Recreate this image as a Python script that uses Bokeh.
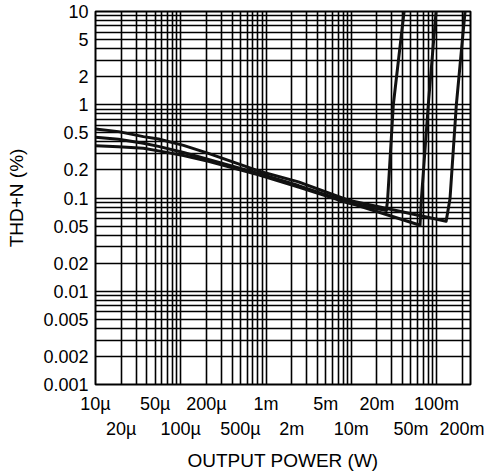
from bokeh.plotting import figure
from bokeh.models import FixedTicker, LogAxis, Range1d
from bokeh.embed import file_html
from bokeh.resources import INLINE

# ---- tick labels ----
x_ticks_row1 = [1e-5, 5e-5, 2e-4, 1e-3, 5e-3, 2e-2, 1e-1]
x_labels_row1 = ["10µ", "50µ", "200µ", "1m", "5m", "20m", "100m"]
x_ticks_row2 = [2e-5, 1e-4, 5e-4, 2e-3, 1e-2, 5e-2, 2e-1]
x_labels_row2 = ["20µ", "100µ", "500µ", "2m", "10m", "50m", "200m"]
y_ticks = [10, 5, 2, 1, 0.5, 0.2, 0.1, 0.05, 0.02, 0.01, 0.005, 0.002, 0.001]
y_labels = ["10", "5", "2", "1", "0.5", "0.2", "0.1", "0.05", "0.02", "0.01", "0.005", "0.002", "0.001"]

# ---- series (output power W, THD+N %) ----
top_p = [1e-5, 1.86e-5, 3.65e-5, 5.48e-5, 1.076e-4, 2.11e-4, 8.15e-4, 2.40e-3, 9.25e-3, 0.0357, 0.1295, 0.1437, 0.1706, 0.2158]
top_thd = [0.549, 0.515, 0.455, 0.429, 0.367, 0.301, 0.195, 0.149, 0.0946, 0.0727, 0.0564, 0.098, 1.0, 10.0]

mid_p = [1e-5, 1.86e-5, 3.65e-5, 5.48e-5, 1.076e-4, 2.11e-4, 8.15e-4, 2.40e-3, 9.25e-3, 0.064, 0.0664, 0.080, 0.0986]
mid_thd = [0.447, 0.426, 0.386, 0.358, 0.308, 0.259, 0.183, 0.136, 0.0895, 0.0510, 0.098, 1.0, 10.0]

bot_p = [1e-5, 1.86e-5, 3.65e-5, 5.48e-5, 1.076e-4, 2.11e-4, 8.15e-4, 2.40e-3, 9.25e-3, 0.0258, 0.0267, 0.0311, 0.0416]
bot_thd = [0.364, 0.355, 0.341, 0.320, 0.286, 0.247, 0.177, 0.131, 0.0883, 0.0734, 0.098, 1.0, 10.0]

FONT = "Liberation Sans"
FS = "18px"

p = figure(
    frame_width=375, frame_height=373,
    x_axis_type="log", y_axis_type="log",
    x_range=Range1d(1e-5, 0.25), y_range=Range1d(0.001, 10),
    output_backend="svg", toolbar_location=None,
    min_border_left=95, min_border_right=14, min_border_top=11, min_border_bottom=0,
)
p.background_fill_color = "white"
p.border_fill_color = "white"
p.outline_line_color = "black"
p.outline_line_width = 2

# grid lines at every 1..9 x decade
xg = []
for e in range(-5, 0):
    for k in range(1, 10):
        v = k * 10.0 ** e
        if v <= 0.25:
            xg.append(v)
yg = []
for e in range(-3, 2):
    for k in range(1, 10):
        v = k * 10.0 ** e
        if v <= 10:
            yg.append(v)

p.xgrid[0].ticker = FixedTicker(ticks=xg)
p.ygrid[0].ticker = FixedTicker(ticks=yg)
for g in (p.xgrid[0], p.ygrid[0]):
    g.grid_line_color = "black"
    g.grid_line_width = 1.6
    g.minor_grid_line_color = None


def style_axis(ax):
    ax.axis_line_color = None
    ax.major_tick_line_color = None
    ax.minor_tick_line_color = None
    ax.major_tick_out = 0
    ax.major_tick_in = 0
    ax.minor_tick_out = 0
    ax.minor_tick_in = 0
    ax.major_label_text_font = FONT
    ax.major_label_text_font_size = FS
    ax.major_label_text_color = "black"
    ax.axis_label_text_font = FONT
    ax.axis_label_text_font_size = "19px"
    ax.axis_label_text_font_style = "normal"
    ax.axis_label_text_color = "black"


# y axis
ya = p.yaxis[0]
style_axis(ya)
ya.ticker = FixedTicker(ticks=y_ticks)
ya.major_label_overrides = {t: l for t, l in zip(y_ticks, y_labels)}
ya.major_label_standoff = 7
ya.axis_label = "THD+N (%)"
ya.axis_label_standoff = 13

# x axis row 1
xa1 = p.xaxis[0]
style_axis(xa1)
xa1.ticker = FixedTicker(ticks=x_ticks_row1)
xa1.major_label_overrides = {t: l for t, l in zip(x_ticks_row1, x_labels_row1)}
xa1.major_label_standoff = 9

# x axis row 2
xa2 = LogAxis()
style_axis(xa2)
xa2.ticker = FixedTicker(ticks=x_ticks_row2)
xa2.major_label_overrides = {t: l for t, l in zip(x_ticks_row2, x_labels_row2)}
xa2.major_label_standoff = 2
xa2.axis_label = "OUTPUT POWER (W)"
xa2.axis_label_standoff = 8
p.add_layout(xa2, "below")

for xs, ys in ((top_p, top_thd), (mid_p, mid_thd), (bot_p, bot_thd)):
    p.line(xs, ys, line_color="#111111", line_width=3, line_join="round")

open("out.html", "w").write(file_html(p, INLINE))
